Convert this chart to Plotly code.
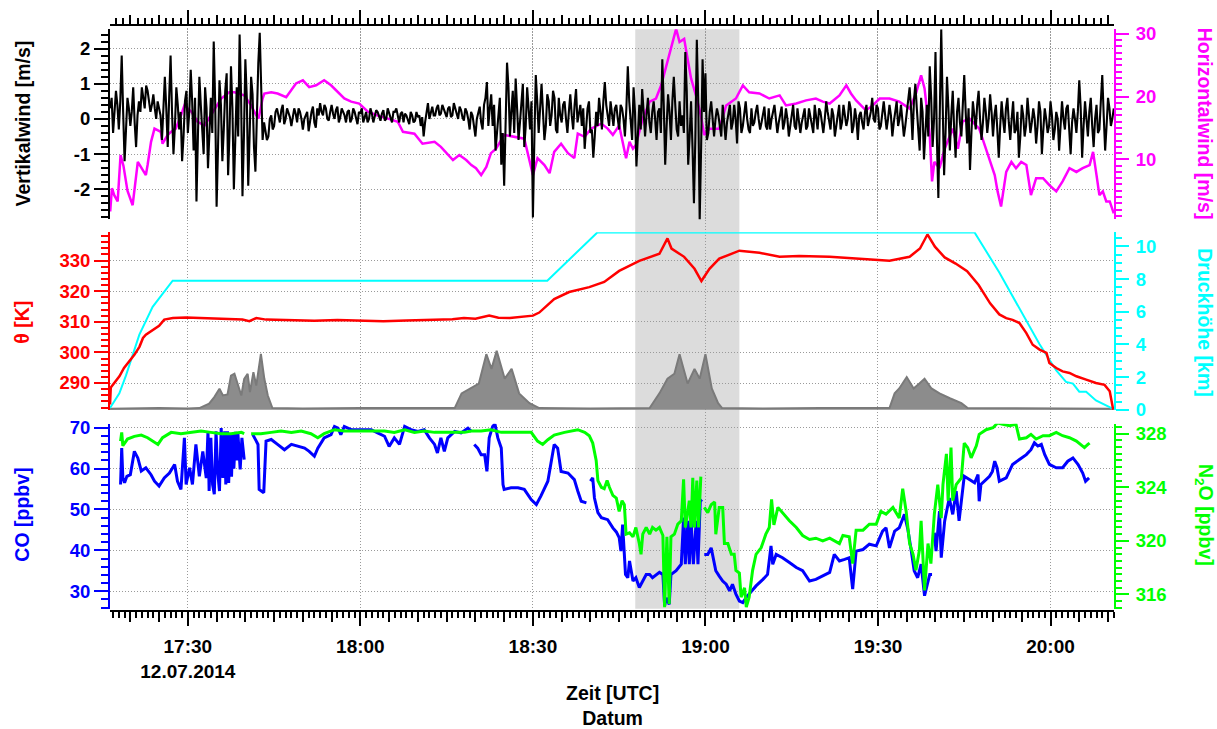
import pandas as pd
import plotly.graph_objects as go

# ---------------------------------------------------------------------------
# Flight 12.07.2014 - time given in minutes after 17:00 UTC
# ---------------------------------------------------------------------------
BASE = pd.Timestamp("2014-07-12 17:00:00")

# vertical wind [m/s], sampled every 0.25 min from 17:16:30
w_start = 16.5
w_step = 0.25
w_vals = [
    0.3, 0.6, -0.4, 0.1, 0.8, 0.4, -0.3, 0.5, 1.8, 0.2, -1.2, -0.3, 0.6, 0.3, -0.2, 0.2, 0.9, -0.1, -0.8, 0.1,
    0.5, 0.2, 0.9, 0.6, 0.3, 0.95, 0.8, 0.5, 0.2, 0.4, 0.7, 0.3, 0.0, 0.5, 0.3, 0.1, -0.6, 0.4, 1.2, 0.3,
    -0.8, 0.6, 1.8, 0.2, -1.0, -0.2, 0.9, 0.4, -0.3, 0.2, -1.2, -0.5, 0.5, 0.8, -0.4, 0.2, 1.4, 0.5, -0.9, 0.6,
    -2.35, -0.5, 1.2, 0.4, -0.5, -1.0, 0.9, 0.3, -1.4, -0.6, 0.6, -0.4, 2.2, 0.5, -2.5, -0.8, 1.1, 0.4, -1.2, -0.3,
    0.8, 1.3, -1.6, -0.4, 1.5, 0.3, -2.0, -0.6, 0.9, -0.5, 2.4, 0.7, -2.2, -0.5, 1.7, 0.6, -1.9, -0.4, 1.2, 0.7,
    -0.8, -1.5, 0.5, 1.6, 2.45, 0.8, -0.6, -0.1, -0.3, -0.6, -0.5, 0.0, 0.1, -0.3, -0.2, 0.2, 0.3, 0.05, -0.1, 0.25,
    0.4, -0.15, 0.0, 0.3, 0.2, 0.05, -0.2, 0.1, 0.3, 0.15, -0.1, 0.3, 0.2, 0.0, -0.3, 0.0, 0.1, 0.2, -0.35, 0.0,
    0.2, 0.35, -0.1, -0.25, 0.3, 0.1, 0.45, 0.2, 0.1, 0.4, 0.3, 0.0, -0.05, 0.2, 0.4, 0.15, 0.0, 0.25, 0.35, -0.1,
    0.05, 0.3, 0.2, 0.1, -0.1, 0.2, 0.25, -0.1, 0.0, 0.3, 0.2, 0.0, -0.15, 0.2, 0.15, 0.3, -0.1, 0.05, 0.2, -0.1,
    0.0, 0.3, 0.15, -0.1, 0.05, 0.25, 0.2, 0.1, -0.05, 0.15, 0.25, -0.05, 0.0, 0.3, 0.15, 0.0, -0.1, 0.2, 0.2, 0.3,
    0.05, -0.1, 0.15, 0.2, -0.1, 0.15, 0.1, 0.0, -0.15, 0.2, 0.1, -0.1, -0.05, 0.2, 0.05, 0.1, -0.2, 0.05, -0.5, -0.1,
    0.2, 0.45, 0.0, 0.2, 0.35, 0.1, 0.1, 0.3, 0.4, 0.1, 0.15, 0.4, 0.3, 0.15, 0.05, 0.3, 0.35, 0.05, 0.1, 0.45,
    0.3, 0.1, 0.0, 0.35, 0.25, 0.05, -0.05, 0.3, 0.2, 0.0, -0.3, 0.2, 0.1, -0.2, -0.5, 0.0, 0.2, 0.35, -0.1, -0.3,
    0.4, 0.6, 1.05, -0.2, 0.3, 0.7, -0.2, 0.4, -0.9, -0.3, 0.2, 0.6, -1.3, -0.4, -1.9, 0.3, 1.6, 0.9, -0.5, 0.2,
    0.8, -0.4, 1.15, 0.3, -0.6, -0.1, 0.6, 1.0, -0.8, -0.2, 0.9, 0.4, -0.3, 0.5, -2.8, -0.6, 1.25, 0.5, -0.4, 0.3,
    1.0, 0.2, -0.6, -0.2, 0.7, 0.5, -0.2, 0.1, 0.8, 0.6, -0.3, -0.4, 0.6, 0.1, -0.1, 0.4, 0.5, 0.0, -0.4, 0.2,
    0.7, 0.1, -0.3, 0.4, 0.85, -0.1, 0.1, 0.4, -0.2, 0.3, -0.85, -0.2, 0.3, 0.5, -0.4, -0.3, -1.1, -0.5, 0.2, -0.2,
    0.6, 0.2, -0.3, 0.5, 1.05, 0.4, 0.1, -0.2, 0.5, 0.1, -0.2, 0.3, 0.4, 0.0, -0.3, 0.4, 0.3, 0.0, -0.5, 0.3,
    1.5, 0.5, -0.2, -0.6, 0.9, 0.2, -1.35, -0.2, 0.4, -0.3, 0.85, 0.2, -0.5, 0.1, 0.6, -0.1, -0.4, 0.2, 0.5, 0.0,
    -0.6, 0.2, 0.3, -0.4, 1.7, 0.4, -1.3, -0.2, 0.7, 0.2, -0.6, 0.5, 1.2, 0.4, -0.3, -0.5, 0.5, -0.2, 0.1, -0.4,
    1.9, 0.8, -1.3, -0.5, 0.5, -0.8, -2.4, -0.5, 2.25, 0.5, -2.9, -0.8, 1.7, 0.2, 1.3, -0.6, -0.4, 0.2, 0.5, 0.0,
    -0.5, 0.0, 0.3, 0.1, -0.3, -0.5, 0.4, 0.0, -0.6, -0.1, 0.2, 0.4, -0.3, -0.1, 0.4, 0.0, -0.7, 0.5, 0.3, -0.4,
    -0.2, 0.1, 0.5, 0.0, -0.3, -0.4, 0.3, -0.2, -0.1, 0.2, 0.4, 0.0, -0.3, -0.1, 0.2, 0.35, -0.2, -0.3, 0.3, -0.3,
    0.0, 0.2, 0.4, 0.0, -0.4, -0.1, 0.1, 0.35, -0.3, -0.1, 0.3, 0.0, -0.5, -0.2, 0.2, 0.4, -0.2, -0.3, 0.3, 0.0,
    -0.4, -0.1, 0.1, 0.3, -0.3, -0.2, 0.3, 0.1, -0.2, -0.4, 0.4, 0.0, -0.3, 0.3, 0.2, -0.1, -0.4, 0.0, 0.5, 0.2,
    -0.1, -0.3, 0.3, 0.1, -0.5, -0.2, 0.2, 0.4, -0.3, -0.1, 0.4, 0.1, -0.2, 0.0, 0.5, 0.3, -0.4, -0.2, 0.3, 0.0,
    -0.6, 0.1, 0.2, -0.1, -0.3, 0.2, 0.4, -0.2, 0.0, 0.2, 0.6, 0.0, -0.1, 0.4, 0.3, -0.3, -0.2, 0.1, 0.5, 0.1,
    -0.3, 0.0, 0.4, 0.1, -0.5, -0.1, 0.3, 0.5, -0.2, 0.0, 0.4, -0.1, -0.5, -0.2, 0.2, 0.4, 0.9, 0.3, -0.6, 0.5,
    1.0, 0.3, -0.4, -0.9, 0.6, 0.2, -1.15, -0.3, 0.4, -0.5, 1.5, 0.6, -0.8, 0.0, 1.9, -0.6, -2.25, 0.2, 2.55, 0.4,
    -1.6, -0.4, 1.2, 0.3, -0.9, 0.1, 0.8, -0.3, -1.1, 0.2, 0.6, -0.1, -0.5, 0.4, 1.25, 0.2, -0.7, 0.3, -1.45, -0.4,
    0.5, 0.1, -0.3, 0.4, 0.8, 0.0, -0.6, -0.1, 0.6, 0.2, -0.4, 0.0, 0.7, 0.2, -0.5, 0.1, 0.4, -0.3, -1.1, -0.2,
    0.5, 0.0, -0.4, 0.3, 0.6, -0.1, -0.6, 0.0, 0.5, -0.4, -0.3, 0.2, -1.1, -0.5, 0.4, 0.1, -0.5, -0.2, 0.6, 0.1,
    -0.4, -0.1, 0.3, 0.0, -0.7, -0.2, 0.5, 0.2, -1.0, -0.3, 0.3, 0.0, -0.4, -0.2, 0.5, 0.1, -0.6, -0.3, 0.2, 0.0,
    -0.9, -0.2, 0.5, 0.0, -0.3, 0.3, 0.4, -0.3, -1.0, -0.1, 0.3, 0.0, -0.4, 0.2, 1.1, 0.3, -1.1, -0.2, 0.5, 0.0,
    -0.5, 0.2, 0.6, -0.2, -0.8, 0.0, 0.4, -0.4, -0.3, 0.5, 1.25, 0.1, -0.9, -0.2, 0.6, 0.3, -0.2, 0.0, 0.3,
]

# horizontal wind [m/s]
h_t = [16.5, 16.8, 17.2, 17.8, 18.3, 18.8, 19.5, 20.4, 21.3, 22.1, 22.7, 23.0,
       23.6, 24.2, 25.3, 25.6, 26.5, 27.1, 27.9, 28.8, 29.4, 30.6, 31.7, 32.9,
       34.0, 35.8, 37.2, 38.1, 39.8, 41.0, 41.9, 42.3, 43.0, 43.3, 44.5, 45.6,
       47.1, 48.0, 48.8, 50.0, 51.1, 52.3, 53.7, 54.9, 56.1, 57.2, 58.4, 59.8,
       61.3, 63.0, 64.8, 66.5, 67.4, 69.4, 70.8, 72.9, 74.0, 75.2, 76.1, 77.2,
       78.4, 79.3, 80.1, 81.0, 81.9, 82.7, 83.6, 85.0, 86.8, 88.5, 90.0, 90.8,
       92.0, 92.9, 93.7, 94.9, 96.1, 97.2, 97.8, 99.0, 100.1, 101.9, 103.0, 103.9,
       105.0, 106.2, 106.8, 107.4, 107.9, 109.1, 110.3, 111.4, 112.3, 113.2, 114.0, 114.9,
       115.5, 116.3, 116.9, 117.5, 118.5, 119.2, 119.8, 120.7, 122.4, 123.6, 125.3, 126.5,
       127.6, 129.4, 131.1, 132.9, 134.0, 135.8, 137.5, 139.2, 140.4, 141.6, 143.3, 144.5,
       145.3, 146.2, 147.9, 149.1, 150.3, 152.0, 153.7, 155.5, 156.6, 157.5, 158.1, 159.0,
       159.4, 159.8, 160.7, 161.6, 163.0, 163.9, 164.7, 165.9, 167.6, 169.4, 170.3, 170.8,
       171.4, 172.3, 173.2, 174.0, 174.9, 175.8, 176.6, 177.5, 178.7, 179.8, 181.0, 182.1,
       183.3, 184.5, 185.6, 186.8, 187.4, 188.0, 188.5, 189.1, 189.7, 190.3, 191.0]
h_v = [1.7, 5.4, 4.3, 3.3, 10.7, 9.0, 5.0, 2.7, 9.6, 8.4, 7.5, 9.1,
       12.8, 14.9, 14.4, 12.5, 13.9, 14.4, 14.9, 17.0, 18.6, 17.6, 16.0, 15.4,
       17.0, 19.7, 20.7, 20.7, 20.2, 18.6, 17.0, 16.5, 19.7, 20.5, 20.7, 20.5,
       19.9, 21.0, 22.1, 22.6, 21.5, 21.8, 22.6, 21.8, 20.7, 19.7, 19.2, 18.9,
       17.6, 17.0, 16.5, 16.0, 14.4, 14.1, 12.5, 12.8, 12.0, 10.7, 9.9, 10.7,
       9.9, 9.1, 8.6, 7.5, 8.8, 11.0, 11.7, 13.9, 13.6, 13.3, 7.5, 10.2,
       9.1, 7.8, 11.2, 12.5, 11.0, 10.2, 14.1, 13.6, 14.9, 15.7, 14.9, 13.9,
       15.4, 10.2, 12.8, 11.7, 12.3, 16.5, 19.2, 19.7, 21.8, 25.0, 27.6, 30.8,
       28.7, 29.2, 26.0, 22.9, 19.7, 17.0, 13.9, 14.9, 14.9, 18.6, 19.7, 21.8,
       20.7, 20.5, 19.7, 20.2, 18.6, 18.9, 19.4, 19.7, 19.2, 18.9, 20.2, 21.8,
       20.5, 19.4, 17.8, 18.6, 19.7, 19.7, 19.2, 18.1, 20.5, 23.4, 21.3, 13.9,
       6.5, 9.6, 8.6, 11.7, 14.9, 11.7, 16.0, 16.5, 14.9, 10.2, 7.5, 4.9,
       2.5, 8.0, 9.6, 8.6, 9.6, 9.1, 4.3, 7.0, 7.0, 5.9, 4.9, 6.5,
       8.6, 8.0, 8.6, 9.1, 11.2, 7.5, 4.3, 4.9, 3.3, 3.3, 1.4]

# potential temperature [K]
theta_t = [16.47, 16.6, 17.2, 18.1, 18.9, 19.8, 20.7, 21.6, 22.2, 22.7, 23.9, 25.0,
           25.9, 27.4, 29.7, 32.0, 34.3, 37.8, 39.5, 40.7, 41.9, 43.6, 46.5, 49.4,
           52.0, 56.0, 60.0, 64.0, 68.0, 72.0, 76.0, 78.0, 80.0, 82.4, 84.0, 86.0,
           88.0, 90.0, 91.1, 92.5, 93.7, 96.3, 99.8, 102.4, 105.0, 108.5, 112.0, 113.4,
           114.1, 116.3, 118.1, 119.3, 120.7, 122.4, 125.9, 129.4, 132.9, 136.3, 141.6, 146.8,
           152.0, 155.5, 157.3, 158.6, 159.9, 161.6, 163.5, 165.5, 167.5, 169.5, 171.1, 172.3,
           173.4, 174.6, 175.8, 176.9, 178.1, 179.3, 179.8, 181.0, 182.1, 183.3, 184.5, 186.2,
           187.9, 189.4, 190.3, 190.9]
theta_v = [283.0, 288.5, 290.0, 292.2, 294.9, 297.1, 299.2, 301.9, 304.7, 305.8, 307.4, 308.7,
           310.7, 311.2, 311.4, 311.2, 311.2, 310.7, 310.7, 310.2, 311.2, 310.7, 310.5, 310.5,
           310.3, 310.6, 310.4, 310.2, 310.4, 310.6, 310.8, 311.2, 311.0, 312.0, 311.3, 311.2,
           311.6, 312.0, 313.0, 315.5, 317.4, 319.7, 321.3, 323.0, 326.6, 329.9, 332.2, 337.2,
           333.9, 331.2, 327.3, 323.3, 327.3, 330.6, 333.2, 332.5, 331.2, 331.5, 331.2, 330.6,
           329.9, 331.2, 333.9, 338.5, 334.5, 331.0, 329.0, 326.5, 322.0, 316.0, 312.4, 311.2,
           310.6, 309.6, 306.3, 302.5, 300.9, 299.8, 296.5, 294.9, 293.8, 293.3, 292.2, 291.1,
           290.0, 289.4, 287.3, 281.3]

# pressure altitude [km]
alt_t = [16.47, 18.09, 19.25, 21.57, 23.88, 26.21, 27.36, 92.5, 101.2, 166.8,
         171.1, 178.1, 181.0, 182.7, 183.9, 185.0, 186.2, 187.9, 190.8]
alt_v = [0.1, 1.0, 2.1, 4.6, 6.3, 7.4, 7.9, 7.9, 10.85, 10.85,
         8.4, 4.0, 2.4, 1.7, 1.6, 1.1, 1.1, 0.57, 0.06]

# cloud / particle signal (grey area, drawn on the altitude scale)
cloud_t = [16.47, 20.0, 25.0, 30.0, 32.0, 33.7, 34.6, 35.5, 36.1, 36.9, 37.5, 38.1,
           38.7, 39.3, 39.8, 40.4, 40.8, 41.4, 41.9, 42.7, 43.3, 43.9, 44.7, 50.0,
           60.0, 70.0, 76.4, 77.6, 79.0, 80.6, 81.9, 82.8, 83.7, 85.1, 86.3, 87.6,
           89.4, 91.1, 100.0, 110.3, 112.0, 113.4, 114.6, 115.5, 116.9, 118.1, 119.0, 120.0,
           121.1, 122.2, 122.9, 130.0, 140.0, 152.0, 152.9, 153.7, 155.0, 156.2, 157.2, 158.1,
           159.3, 160.7, 162.5, 164.5, 165.6, 175.0, 185.0, 191.0]
cloud_v = [0.05, 0.08, 0.1, 0.08, 0.1, 0.37, 0.77, 1.28, 0.87, 0.93, 2.09, 2.2,
           1.48, 0.87, 1.89, 2.2, 1.08, 2.3, 1.48, 3.41, 1.89, 0.87, 0.1, 0.08,
           0.1, 0.08, 0.1, 1.0, 1.3, 1.6, 3.4, 2.5, 3.6, 1.9, 2.5, 1.0,
           0.4, 0.1, 0.08, 0.1, 1.0, 1.9, 2.2, 3.4, 1.6, 2.5, 1.9, 3.4,
           1.3, 0.4, 0.1, 0.08, 0.1, 0.1, 1.0, 1.3, 2.0, 1.3, 1.6, 1.9,
           1.3, 1.0, 0.7, 0.4, 0.1, 0.08, 0.1, 0.05]

# CO [ppbv]; None marks data gaps
co_t = [18.3, 18.5, 18.7, 19.0, 19.4, 20.0, 20.7, 21.3, 21.9, 22.7, 23.6, 24.2,
        25.0, 25.9, 26.8, 27.7, 28.2, 28.8, 29.4, 29.7, 30.3, 30.8, 31.4, 32.0,
        32.6, 33.2, 33.5, 33.7, 34.0, 34.3, 34.6, 34.9, 35.2, 35.5, 35.8, 36.1,
        36.4, 36.6, 36.9, 37.1, 37.4, 37.6, 37.8, 38.0, 38.3, 38.5, 38.7, 39.1,
        39.4, 39.8, 40.5, 41.3, 42.2, 42.4,
        43.2, 43.6, 44.5, 45.6, 46.8, 48.0, 49.1, 50.3, 51.1, 52.0, 52.6, 53.7,
        54.9, 55.5, 56.1, 56.6, 57.2, 58.4, 59.5, 60.7, 61.9, 63.0, 64.2, 65.0,
        65.9, 66.8, 67.7, 68.8, 70.0, 71.1, 72.0, 72.9, 73.4, 74.0, 74.6, 75.2,
        76.4, 77.5, 78.7, 79.3, 79.5, 79.8, 80.4, 81.0, 81.6, 82.0, 82.4, 83.0,
        83.4, 83.9, 84.5, 84.8, 85.0, 86.2, 87.4, 88.5, 89.7, 90.6, 91.4, 92.6,
        93.2, 93.7, 94.3, 94.9, 96.1, 97.2, 97.8, 98.4, 99.3, 99.6, 100.0, 100.4,
        100.7, 101.3, 101.9, 103.0, 103.9, 104.5, 105.0, 105.3, 105.6, 106.1, 106.5, 106.8,
        107.4, 107.9, 108.5, 109.1, 109.7, 110.3, 110.8, 112.0, 112.6, 112.9, 113.2, 113.7,
        114.0, 114.9, 115.8, 116.2, 116.5, 116.9, 117.2, 117.5, 117.9, 118.4, 118.7, 119.1,
        119.4, 119.6, 119.8, 120.4, 121.0, 121.6, 121.8, 122.4, 123.0, 123.6, 124.2, 124.7,
        125.3, 125.9, 126.5, 127.1, 127.6, 128.8, 130.0, 130.8, 131.4, 131.7, 132.3, 133.4,
        134.6, 135.8, 136.9, 138.1, 139.2, 140.4, 141.6, 142.4, 143.3, 144.2, 145.0, 145.6,
        146.2, 147.4, 148.5, 149.7, 150.8, 151.4, 152.0, 152.9, 153.7, 154.6, 155.2, 155.8,
        156.3, 156.9, 157.5, 158.1, 158.4, 159.0, 159.4, 159.6, 159.8, 160.1, 160.7, 161.0,
        161.6, 162.4, 163.0, 163.6, 164.1, 164.5, 165.0, 165.9, 166.8, 167.4, 167.6, 167.9,
        168.5, 169.4, 169.9, 170.3, 170.7, 171.1, 172.3, 173.4, 174.6, 175.8, 176.6, 177.2,
        177.8, 178.4, 179.0, 179.8, 181.0, 182.1, 183.0, 183.9, 184.8, 185.6, 186.1, 186.7]
co_v = [56.1, 65.0, 57.7, 56.5, 58.1, 58.5, 64.2, 62.6, 59.4, 60.2, 58.5, 56.9,
        55.7, 57.7, 58.9, 61.0, 56.9, 54.9, 67.5, 56.1, 60.2, 56.1, 65.9, 58.1,
        64.2, 57.7, 69.1, 54.5, 67.5, 56.1, 53.7, 69.1, 59.0, 54.5, 69.9, 57.7,
        69.1, 56.1, 69.1, 56.5, 68.5, 58.0, 68.7, 60.0, 69.0, 62.0, 68.7, 59.8,
        67.5, 62.2, None, 68.3, 65.9, 54.9,
        54.1, 66.7, 67.1, 65.9, 64.6, 65.9, 65.4, 65.0, 64.2, 63.0, 65.0, 67.5,
        68.3, 70.3, 69.9, 68.3, 70.3, 69.5, 69.5, 69.5, 69.5, 68.7, 67.9, 65.4,
        67.5, 65.9, 70.3, 69.5, 69.1, 69.5, 67.5, 65.9, 63.8, 67.5, 64.2, 67.5,
        69.1, 68.7, 69.9, 69.1, None, 65.9, 65.0, 63.4, 63.4, 59.3, 67.5, 70.3,
        70.9, 67.5, 65.0, 56.1, 54.9, 55.3, 55.3, 54.9, 52.4, 51.2, 53.3, 56.9,
        61.8, 65.9, 65.0, 59.3, 58.9, 57.3, 54.5, 52.0, 51.6, None, 56.9, 57.7,
        52.8, 49.2, 48.0, 47.5, 45.5, 44.5, 43.1, 39.8, 46.3, 34.1, 33.3, 37.4,
        32.5, 33.3, 30.9, 32.5, 34.1, 34.1, 33.3, 34.6, 34.1, 26.4, 28.4, 26.8,
        34.1, 35.0, 36.6, 48.0, 36.6, 47.2, 36.6, 47.2, 36.6, 47.2, 36.6, 52.0,
        52.4, None, 39.0, 39.0, 40.6, 36.6, 35.0, 33.7, 32.5, 31.7, 30.1, 31.7,
        29.3, 27.6, 27.2, 28.5, 29.3, 31.3, 32.9, 34.1, 41.1, 36.6, 39.0, 38.2,
        37.0, 35.8, 35.0, 32.5, 32.9, 33.7, 34.6, 39.0, 37.4, 37.8, 38.2, 30.5,
        39.8, 40.2, 41.5, 41.1, 44.7, 45.5, 40.6, 44.7, 45.5, 48.8, 45.1, 39.8,
        35.0, 33.3, 36.6, 28.9, 30.9, 34.1, 34.1, None, 44.3, 39.8, 49.6, 38.2,
        47.2, 52.8, 48.8, 54.5, 47.2, 52.0, 58.1, 57.3, 56.5, 58.5, 52.0, 56.1,
        56.9, 58.1, 59.3, 61.8, 60.2, 56.9, 57.7, 61.0, 62.2, 63.4, 64.6, 66.3,
        65.5, 65.9, 63.4, 61.0, 60.2, 60.2, 61.8, 62.6, 61.0, 58.9, 56.9, 57.7]

# N2O [ppbv]; None marks data gaps
n2o_t = [18.3, 18.5, 18.7, 19.5, 20.7, 21.9, 23.0, 23.9, 24.8, 25.6, 27.1, 28.8,
         30.6, 32.3, 34.0, 35.8, 37.5, 39.3, 39.8, 40.5, 41.0, 42.7, 44.5, 46.2,
         48.0, 49.7, 51.4, 52.6, 53.7, 55.5, 57.2, 59.0, 60.7, 62.4, 64.2, 65.9,
         67.7, 69.4, 71.1, 72.9, 74.6, 76.4, 78.1, 79.3, 81.0, 82.7, 84.5, 86.2,
         87.9, 89.7, 90.8, 91.7, 92.6, 93.7, 95.5, 96.6, 97.8, 99.0, 99.8, 100.4,
         101.0, 101.3, 101.9, 102.4, 102.9, 103.3, 103.9, 104.5, 105.0, 105.5, 105.9, 106.2,
         106.8, 107.4, 107.9, 108.5, 108.8, 109.1, 109.7, 110.3, 110.8, 111.4, 112.0, 112.6,
         112.9, 113.3, 113.7, 114.0, 114.6, 115.2, 115.8, 116.2, 116.5, 117.2, 117.5, 117.8,
         118.1, 118.5, 118.8, 119.2, 119.5, 119.8, 120.4, 121.0, 121.6, 121.8, 122.4, 123.0,
         123.3, 123.9, 124.5, 125.0, 125.3, 125.9, 126.2, 126.8, 127.1, 127.6, 128.2, 128.8,
         129.7, 130.5, 131.1, 131.5, 131.9, 132.6, 133.4, 134.6, 135.8, 136.9, 138.1, 139.2,
         140.4, 141.6, 143.3, 143.9, 145.0, 145.6, 146.2, 147.4, 148.5, 149.7, 150.5, 151.4,
         152.6, 153.7, 154.3, 154.9, 155.5, 156.1, 156.6, 157.2, 157.5, 158.1, 158.7, 159.2,
         159.8, 160.4, 161.0, 161.3, 161.9, 162.2, 162.7, 163.0, 163.6, 164.5, 165.0, 165.6,
         166.2, 167.1, 167.6, 168.8, 170.0, 170.8, 171.7, 172.9, 174.0, 174.6, 175.8, 176.6,
         177.5, 178.7, 179.8, 181.0, 182.1, 183.3, 184.5, 185.3, 185.9, 186.5, 186.8]
n2o_v = [327.45, 328.1, 327.1, 327.6, 327.8, 327.9, 327.7, 327.45, 327.2, 327.7, 328.1, 328.0,
         328.1, 328.2, 328.1, 328.0, 328.0, 328.1, 328.0, None, 328.0, 328.0, 328.1, 328.2,
         328.1, 328.2, 328.0, 327.7, 328.0, 328.3, 328.2, 328.2, 328.2, 328.2, 328.2, 328.1,
         328.3, 328.1, 328.2, 328.1, 328.1, 328.1, 328.1, 328.2, 328.2, 328.3, 328.1, 328.1,
         328.1, 328.1, 327.45, 327.2, 327.55, 327.9, 328.1, 328.2, 328.3, 328.1, 327.85, 327.3,
         326.0, 324.5, 324.0, 323.9, 324.5, 324.0, 323.4, 323.2, 322.2, 323.0, 322.7, 320.5,
         320.6, 320.3, 321.0, 319.8, 319.0, 320.5, 321.0, 320.5, 321.0, 320.8, 321.0, 320.4,
         315.05, 320.3, 315.3, 320.3, 320.5, 321.25, 321.5, 324.6, 321.0, 323.0, 321.0, 324.7,
         321.0, 324.5, 321.0, 324.8, None, 322.5, 322.1, 322.7, 322.9, 320.5, 322.5, 322.5,
         319.8, 319.8, 319.0, 319.0, 317.8, 317.6, 315.8, 316.5, 315.05, 315.8, 317.8, 319.0,
         319.5, 320.5, 321.0, 323.1, 321.2, 322.5, 322.1, 321.5, 321.0, 320.4, 320.1, 320.2,
         320.0, 320.2, 319.8, 320.4, 320.3, 318.3, 320.8, 320.8, 321.25, 321.25, 322.2, 322.0,
         322.5, 321.7, 323.9, 322.2, 319.8, 319.0, 317.8, 319.3, 321.5, 316.3, 319.8, 318.3,
         322.0, 324.2, 321.7, 324.2, 326.5, 323.0, 326.96, 323.0, 324.2, 324.7, 327.3, 326.96,
         326.2, 327.1, 327.95, 328.3, 328.45, 328.8, 328.7, 328.6, 328.7, 327.6, 327.7, 327.95,
         327.6, 327.85, 327.85, 328.1, 327.85, 327.7, 327.45, 327.2, 326.96, 327.2, 327.3]

# highlighted flight leg
shade_start, shade_end = 107.8, 125.9

# axis ranges and ticks
time_range = [16.464, 191.04]
w_range, w_ticks = [-2.85, 2.55], [-2, -1, 0, 1, 2]
h_range, h_ticks = [0.48, 30.73], [10, 20, 30]
theta_range, theta_ticks = [281.13, 339.2], [290, 300, 310, 320, 330]
alt_range, alt_ticks = [-0.03, 10.86], [0, 2, 4, 6, 8, 10]
co_range, co_ticks = [25.7, 70.98], [30, 40, 50, 60, 70]
n2o_range, n2o_ticks = [314.93, 328.75], [316, 320, 324, 328]


def clock(minutes):
    return [BASE + pd.Timedelta(minutes=m) for m in minutes]


w_t = [w_start + w_step * i for i in range(len(w_vals))]

BLACK, MAGENTA, RED, CYAN, BLUE, GREEN = (
    "#000000", "#ff00ff", "#ff0000", "#00ffff", "#0000ff", "#00ff00")
GRID = "#9a9a9a"
GRID_DASH = "1px,2px"
FAM = "Liberation Sans, Arial, sans-serif"

TOP = [0.6687, 0.9927]
MID = [0.3427, 0.6462]
BOT = [0.00375, 0.3197]

fig = go.Figure()

# full-height frame carrying the vertical time grid and the extra time-tick axes
for xa in ("x", "x2", "x3", "x4"):
    fig.add_trace(go.Scatter(x=[], y=[], xaxis=xa, yaxis="y", showlegend=False,
                             hoverinfo="skip"))

fig.add_trace(go.Scatter(x=clock(h_t), y=h_v, yaxis="y2", mode="lines",
                         line=dict(color=MAGENTA, width=2.5), name="Horizontalwind"))
fig.add_trace(go.Scatter(x=clock(w_t), y=w_vals, yaxis="y3", mode="lines",
                         line=dict(color=BLACK, width=2.1), name="Vertikalwind"))
fig.add_trace(go.Scatter(x=clock(cloud_t), y=cloud_v, yaxis="y4", mode="lines",
                         fill="tozeroy", fillcolor="#8c8c8c",
                         line=dict(color="#7a7a7a", width=2), name="Wolke"))
fig.add_trace(go.Scatter(x=clock(alt_t), y=alt_v, yaxis="y4", mode="lines",
                         line=dict(color=CYAN, width=2), name="Druckhöhe"))
fig.add_trace(go.Scatter(x=clock(theta_t), y=theta_v, yaxis="y5", mode="lines",
                         line=dict(color=RED, width=2.5), name="θ"))
fig.add_trace(go.Scatter(x=clock(co_t), y=co_v, yaxis="y6", mode="lines",
                         line=dict(color=BLUE, width=3), name="CO"))
fig.add_trace(go.Scatter(x=clock(n2o_t), y=n2o_v, yaxis="y7", mode="lines",
                         line=dict(color=GREEN, width=3), name="N2O"))

xr = clock(time_range)
t0 = BASE


def time_axis(**kw):
    base = dict(type="date", range=xr, tickmode="linear", tick0=t0,
                ticks="outside", tickcolor=BLACK, showgrid=False, zeroline=False,
                showticklabels=False, showline=False)
    base.update(kw)
    return base


def value_axis(color, rng, ticks, side, domain=None, overlay=None, minor=1.0,
               grid=False, ticklen=14, standoff=0):
    ax = dict(range=rng, tickmode="array", tickvals=ticks,
              ticktext=[str(v) for v in ticks], side=side, anchor="x",
              ticks="outside", ticklen=ticklen, tickwidth=2, tickcolor=color,
              showline=True, linecolor=color, linewidth=2, zeroline=False,
              tickfont=dict(family=FAM, size=18.5, color=color, weight="bold"),
              ticklabelstandoff=standoff,
              minor=dict(ticks="outside", dtick=minor, ticklen=ticklen // 2,
                         tickwidth=1.5, tickcolor=color, showgrid=False),
              showgrid=grid, gridcolor=GRID, griddash=GRID_DASH, gridwidth=1)
    if domain is not None:
        ax["domain"] = domain
    if overlay is not None:
        ax["overlaying"] = overlay
    return ax


fig.update_layout(
    width=1217, height=729,
    margin=dict(l=110, r=102.5, t=25, b=117.5),
    paper_bgcolor="white", plot_bgcolor="rgba(0,0,0,0)", showlegend=False,
    xaxis=time_axis(anchor="free", position=0, side="bottom", dtick=30 * 60000,
                    tickformat="%H:%M\n%d.%m.%Y", showticklabels=True,
                    ticklen=14, tickwidth=2, showline=True, linecolor=BLACK,
                    linewidth=2, showgrid=True, gridcolor=GRID, griddash=GRID_DASH,
                    gridwidth=1, ticklabelstandoff=4,
                    tickfont=dict(family=FAM, size=19, color=BLACK, weight="bold"),
                    minor=dict(ticks="outside", dtick=60000, tick0=t0, ticklen=6,
                               tickwidth=1.5, tickcolor=BLACK, showgrid=False)),
    xaxis2=time_axis(overlaying="x", anchor="free", position=0, side="bottom",
                     dtick=5 * 60000, ticklen=10, tickwidth=1.5),
    xaxis3=time_axis(overlaying="x", anchor="free", position=1, side="top",
                     dtick=30 * 60000, ticklen=14, tickwidth=2, showline=True,
                     linecolor=BLACK, linewidth=2,
                     minor=dict(ticks="outside", dtick=75000, tick0=t0, ticklen=6,
                                tickwidth=1.5, tickcolor=BLACK, showgrid=False)),
    xaxis4=time_axis(overlaying="x", anchor="free", position=1, side="top",
                     dtick=5 * 60000, ticklen=10, tickwidth=1.5),
    yaxis=dict(domain=[0, 1], visible=False, range=[0, 1], anchor="x"),
    yaxis2=value_axis(MAGENTA, h_range, h_ticks, "right", domain=TOP, minor=1,
                      ticklen=13, standoff=3),
    yaxis3=value_axis(BLACK, w_range, w_ticks, "left", overlay="y2", minor=0.2, grid=True),
    yaxis4=value_axis(CYAN, alt_range, alt_ticks, "right", domain=MID, minor=0.5,
                      ticklen=13, standoff=3),
    yaxis5=value_axis(RED, theta_range, theta_ticks, "left", overlay="y4", minor=2, grid=True),
    yaxis6=value_axis(BLUE, co_range, co_ticks, "left", domain=BOT, minor=2, grid=True),
    yaxis7=value_axis(GREEN, n2o_range, n2o_ticks, "right", overlay="y6", minor=0.5,
                      ticklen=13, standoff=3),
)

# highlighted leg across all three panels
fig.add_shape(type="rect", xref="x", yref="paper",
              x0=clock([shade_start])[0], x1=clock([shade_end])[0],
              y0=BOT[0], y1=TOP[1], fillcolor="#dcdcdc", line=dict(width=0),
              layer="below")


def title(text, px, py, angle, color):
    fig.add_annotation(text=text, xref="paper", yref="paper",
                       x=(px - 110) / 1004.5, y=(611.5 - py) / 586.5,
                       xanchor="center", yanchor="middle", textangle=angle,
                       showarrow=False,
                       font=dict(family=FAM, size=19.5, color=color, weight="bold"))


title("Vertikalwind [m/s]", 22.5, 124.0, -90, BLACK)
title("θ [K]", 22.5, 322.5, -90, RED)
title("CO [ppbv]", 22.5, 515.5, -90, BLUE)
title("Horizontalwind [m/s]", 1205, 124.2, 90, MAGENTA)
title("Druckhöhe [km]", 1205.5, 322.5, 90, CYAN)
title("N<sub>2</sub>O [ppbv]", 1205, 515.8, 90, GREEN)
title("Zeit [UTC]<br>Datum", 613, 706.5, 0, BLACK)

fig.write_html("out.html")
